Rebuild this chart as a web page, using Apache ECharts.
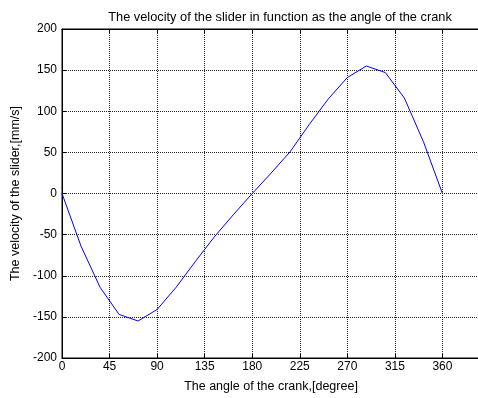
<!DOCTYPE html>
<html>
<head>
<meta charset="utf-8">
<script src="https://cdn.jsdelivr.net/npm/echarts@6/dist/echarts.min.js"></script>
<style>
  html, body { margin: 0; padding: 0; overflow: hidden; background: #fff; }
  #myChart { width: 500px; height: 398px; }
</style>
</head>
<body>
<div id="myChart"></div>
<script>
// crank angle in degrees, slider velocity in mm/s
var angles = [0, 18, 36, 54, 72, 90, 108, 126, 144, 162, 180, 198, 216, 234, 252, 270, 288, 306, 324, 342, 360];
var velocities = [0, -64, -114, -147, -155, -141, -114, -83, -53, -26, 0, 25, 51, 84, 115, 141, 155, 147, 116, 63, 0];
var titleText = 'The velocity of the slider in function as the angle of the crank';
var xName = 'The angle of the crank,[degree]';
var yName = 'The velocity of the slider,[mm/s]';

var pts = [];
for (var i = 0; i < angles.length; i++) {
  pts.push([angles[i], velocities[i]]);
}

var font = 'Liberation Sans, Arial, sans-serif';
var gridDots = { show: true, lineStyle: { color: '#222', type: [1, 1], width: 1 } };

var myChart = echarts.init(document.getElementById('myChart'));
myChart.setOption({
  animation: false,
  backgroundColor: '#fff',
  title: {
    text: titleText,
    left: 275, top: 6, textAlign: 'center',
    textStyle: { fontFamily: font, fontSize: 12.8, fontWeight: 'normal', color: '#000' }
  },
  grid: { left: 62, right: 10, top: 29, bottom: 36, show: true, borderColor: '#000', borderWidth: 1 },
  xAxis: [{
    type: 'value', min: 0, max: 405, interval: 45,
    name: xName, nameLocation: 'middle', nameGap: 22,
    nameTextStyle: { fontFamily: font, fontSize: 12.5, color: '#000', padding: [0, 10, 0, 0] },
    axisLine: { show: true, onZero: false, lineStyle: { color: '#000', width: 1 } },
    axisTick: { show: true, inside: true, length: 4, lineStyle: { color: '#000' } },
    axisLabel: {
      fontFamily: font, fontSize: 12, color: '#000', margin: 3,
      formatter: function (v) { return v > 360 ? '' : v; }
    },
    splitLine: gridDots
  }, {
    type: 'value', min: 0, max: 405, interval: 45, position: 'top',
    axisLine: { show: true, onZero: false, lineStyle: { color: '#000' } },
    axisTick: { show: true, inside: true, length: 4, lineStyle: { color: '#000' } },
    axisLabel: { show: false },
    splitLine: { show: false }
  }],
  yAxis: {
    type: 'value', min: -200, max: 200, interval: 50,
    name: yName, nameLocation: 'middle', nameGap: 38,
    nameTextStyle: { fontFamily: font, fontSize: 12.5, color: '#000' },
    axisLine: { show: true, onZero: false, lineStyle: { color: '#000', width: 1 } },
    axisTick: { show: true, inside: true, length: 4, lineStyle: { color: '#000' } },
    axisLabel: { fontFamily: font, fontSize: 12, color: '#000', margin: 5 },
    splitLine: gridDots
  },
  series: [{
    type: 'line',
    data: pts,
    showSymbol: false,
    lineStyle: { color: '#0000ff', width: 1 },
    itemStyle: { color: '#0000ff' }
  }]
});
</script>
</body>
</html>
